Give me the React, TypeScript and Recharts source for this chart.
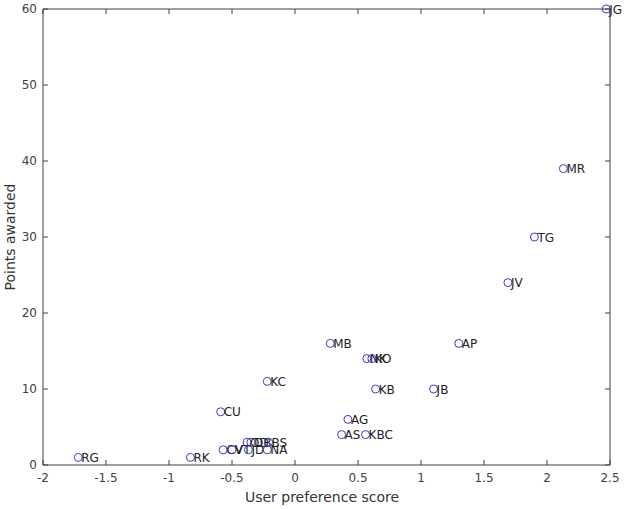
import React from "react";
import {
  ScatterChart,
  Scatter,
  XAxis,
  YAxis,
  ReferenceArea,
} from "recharts";

const names = ["JG", "MR", "TG", "JV", "AP", "JB", "MB", "NK", "KO", "KB", "AG", "AS", "KBC", "KC", "CU", "OD", "DB", "BS", "CV", "VT", "JD", "NA", "RK", "RG"];
const prefScores = [2.47, 2.13, 1.9, 1.69, 1.3, 1.1, 0.28, 0.57, 0.61, 0.64, 0.42, 0.37, 0.56, -0.22, -0.59, -0.38, -0.35, -0.21, -0.57, -0.5, -0.37, -0.22, -0.83, -1.72];
const points = [60, 39, 30, 24, 16, 10, 16, 14, 14, 10, 6, 4, 4, 11, 7, 3, 3, 3, 2, 2, 2, 2, 1, 1];

const xTicks = [-2, -1.5, -1, -0.5, 0, 0.5, 1, 1.5, 2, 2.5];
const yTicks = [0, 10, 20, 30, 40, 50, 60];

const data = names.map((name, i) => ({ name, x: prefScores[i], y: points[i] }));

const W = 625;
const H = 509;
const PLOT_TOP = 9;
const PLOT_LEFT = 43;
const PLOT_RIGHT = 610;
const PLOT_BOTTOM = 465;
const AXIS = "#404040";
const FONT = "DejaVu Sans, sans-serif";

function XTick({ x, y, payload }: any) {
  return (
    <g>
      <line x1={x} y1={PLOT_BOTTOM} x2={x} y2={PLOT_BOTTOM - 5} stroke={AXIS} />
      <line x1={x} y1={PLOT_TOP} x2={x} y2={PLOT_TOP + 5} stroke={AXIS} />
      <text x={x} y={PLOT_BOTTOM + 17} textAnchor="middle" fontSize={12} fill={AXIS} fontFamily={FONT}>
        {payload.value}
      </text>
    </g>
  );
}

function YTick({ y, payload }: any) {
  return (
    <g>
      <line x1={PLOT_LEFT} y1={y} x2={PLOT_LEFT + 5} y2={y} stroke={AXIS} />
      <line x1={PLOT_RIGHT} y1={y} x2={PLOT_RIGHT - 5} y2={y} stroke={AXIS} />
      <text x={PLOT_LEFT - 6} y={y + 4} textAnchor="end" fontSize={12} fill={AXIS} fontFamily={FONT}>
        {payload.value}
      </text>
    </g>
  );
}

function Marker({ cx, cy, payload }: any) {
  return (
    <g>
      <circle cx={cx} cy={cy} r={4} fill="none" stroke="#3a3ac8" strokeWidth={1} />
      <text x={cx + 3} y={cy + 4.5} fontSize={12} fill="#222" fontFamily={FONT}>
        {payload.name}
      </text>
    </g>
  );
}

export default function App() {
  return (
    <div style={{ position: "absolute", left: 0, top: 0, width: W, height: H, background: "#fff" }}>
      <ScatterChart
        width={W}
        height={H}
        margin={{ top: PLOT_TOP, right: W - PLOT_RIGHT, bottom: 0, left: 0 }}
      >
        <XAxis
          type="number"
          dataKey="x"
          domain={[-2, 2.5]}
          ticks={xTicks}
          tick={<XTick />}
          tickLine={false}
          axisLine={false}
          tickSize={0}
          height={H - PLOT_BOTTOM}
          interval={0}
        />
        <YAxis
          type="number"
          dataKey="y"
          domain={[0, 60]}
          ticks={yTicks}
          tick={<YTick />}
          tickLine={false}
          axisLine={false}
          tickSize={0}
          width={PLOT_LEFT}
          interval={0}
        />
        <ReferenceArea x1={-2} x2={2.5} y1={0} y2={60} fill="none" stroke={AXIS} strokeWidth={1} />
        <Scatter data={data} shape={<Marker />} isAnimationActive={false} />
      </ScatterChart>
      <div
        style={{
          position: "absolute",
          left: 0,
          top: 489,
          width: W,
          paddingLeft: PLOT_LEFT,
          boxSizing: "border-box",
          textAlign: "center",
          fontFamily: FONT,
          fontSize: 14,
          color: "#333",
        }}
      >
        <span style={{ position: "relative", left: -12 }}>User preference score</span>
      </div>
      <div
        style={{
          position: "absolute",
          left: 4,
          top: 235,
          transform: "translate(0, -50%) rotate(-90deg)",
          transformOrigin: "left top",
          whiteSpace: "nowrap",
          fontFamily: FONT,
          fontSize: 14,
          color: "#333",
        }}
      >
      </div>
      <svg width={W} height={H} style={{ position: "absolute", left: 0, top: 0, pointerEvents: "none" }}>
        <text
          transform={`translate(15, ${(PLOT_TOP + PLOT_BOTTOM) / 2}) rotate(-90)`}
          textAnchor="middle"
          fontFamily={FONT}
          fontSize={14}
          fill="#333"
        >
          Points awarded
        </text>
      </svg>
    </div>
  );
}
